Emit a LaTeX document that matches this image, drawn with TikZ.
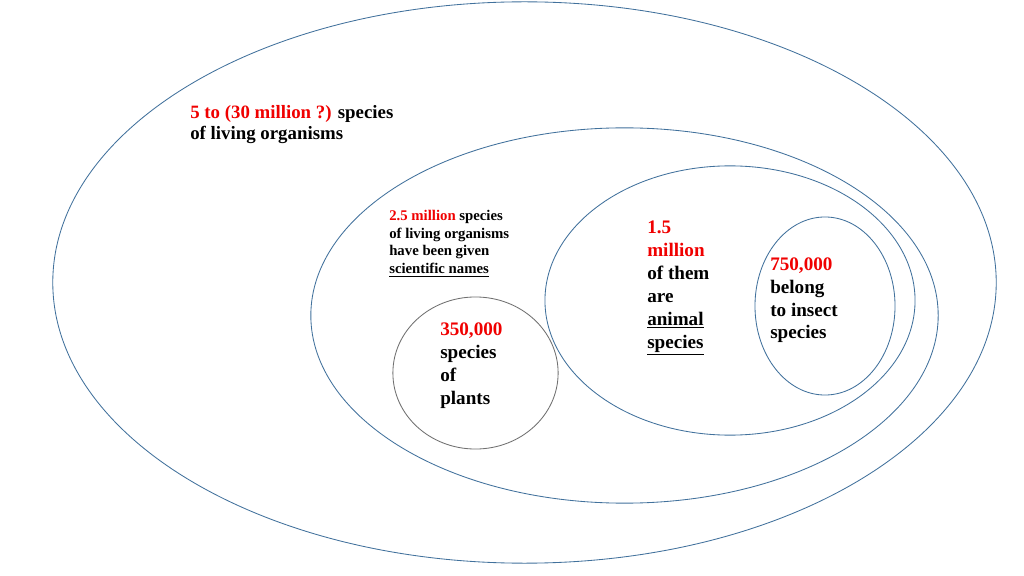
\documentclass[tikz,border=0pt]{standalone}
\usepackage{fontspec}
\setmainfont{Liberation Serif}
\usetikzlibrary{shapes.geometric}
\definecolor{RingBlue}{HTML}{41719C}
\definecolor{RingGray}{HTML}{707070}
\definecolor{NumRed}{HTML}{F00000}

\begin{document}
\begin{tikzpicture}[x=0.025cm,y=-0.025cm,
    ring/.style={draw=RingBlue,line width=0.6pt,ellipse,inner sep=0pt},
    label/.style={anchor=base west,align=left,inner sep=0pt,font=\bfseries\fontsize{13.6}{16.3}\selectfont}]
  \useasboundingbox[fill=white] (0,0) rectangle (1024,576);
  \node[ring,minimum width=23.58cm,minimum height=14.03cm] (all)    at (524.5,282.5) {};
  \node[ring,minimum width=15.68cm,minimum height=9.38cm]  (named)  at (624.5,315.5) {};
  \node[ring,minimum width=9.25cm,minimum height=6.73cm]   (animal) at (730,300.5)   {};
  \node[ring,minimum width=3.5cm,minimum height=4.45cm]    (insect) at (825,306)     {};
  \node[ring,draw=RingGray,minimum width=4.13cm,minimum height=3.8cm] (plant) at (475.5,373) {};

  % anchors sit on the baseline of the last line
  \node[label,font=\bfseries\fontsize{13.4}{15}\selectfont] (alltxt) at (190,140)
    {\textcolor{NumRed}{5 to (30 million ?)} species\\of living organisms};
  \node[label,font=\bfseries\fontsize{10.5}{12.8}\selectfont] (namedtxt) at (389,274)
    {\textcolor{NumRed}{2.5 million} species\\of living organisms\\have been given\\\underline{scientific names}};
  \node[label] (animaltxt) at (647,348)
    {\textcolor{NumRed}{1.5}\\\textcolor{NumRed}{million}\\of them\\are\\\underline{animal}\\\underline{species}};
  \node[label] (insecttxt) at (770,339)
    {\textcolor{NumRed}{750,000}\\belong\\to insect\\species};
  \node[label] (planttxt) at (440,404)
    {\textcolor{NumRed}{350,000}\\species\\of\\plants};
\end{tikzpicture}
\end{document}
